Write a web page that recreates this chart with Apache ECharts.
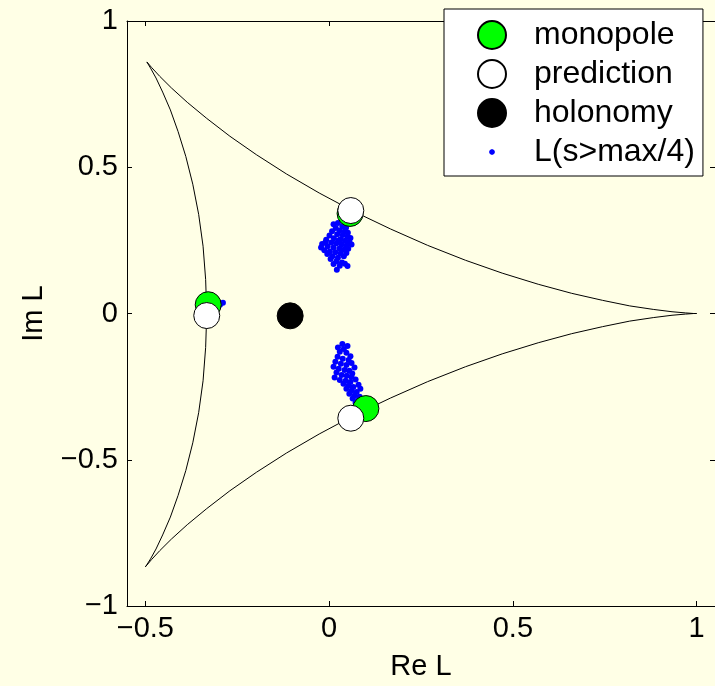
<!DOCTYPE html>
<html>
<head>
<meta charset="utf-8">
<script src="https://cdn.jsdelivr.net/npm/echarts@6/dist/echarts.min.js"></script>
<style>
  html, body { margin: 0; padding: 0; background: #ffffe6; }
  #chart { width: 715px; height: 686px; }
</style>
</head>
<body>
<div id="chart"></div>
<script>
// Axis ticks and their printed labels
const xTicks = [-0.5, 0, 0.5, 1];
const xTickLabels = ['\u22120.5', '0', '0.5', '1'];
const yTicks = [-1, -0.5, 0, 0.5, 1];
const yTickLabels = ['\u22121', '\u22120.5', '0', '0.5', '1'];

// Boundary of the region of allowed Polyakov loop values (closed curve)
const boundary = [
  [1.000, 0.000], [0.992, 0.000], [0.970, 0.002], [0.933, 0.006], [0.882, 0.014],
  [0.818, 0.026], [0.744, 0.045], [0.660, 0.069], [0.569, 0.100], [0.471, 0.138],
  [0.371, 0.182], [0.268, 0.233], [0.167, 0.289], [0.067, 0.349], [-0.027, 0.412],
  [-0.116, 0.477], [-0.198, 0.543], [-0.270, 0.606], [-0.333, 0.667], [-0.386, 0.722],
  [-0.429, 0.771], [-0.461, 0.811], [-0.483, 0.841], [-0.496, 0.860], [-0.500, 0.866],
  [-0.496, 0.859], [-0.486, 0.839], [-0.471, 0.805], [-0.453, 0.757], [-0.432, 0.696],
  [-0.411, 0.622], [-0.390, 0.537], [-0.371, 0.442], [-0.355, 0.339], [-0.343, 0.230],
  [-0.336, 0.116], [-0.333, 0.000], [-0.336, -0.116], [-0.343, -0.230], [-0.355, -0.339],
  [-0.371, -0.442], [-0.390, -0.537], [-0.411, -0.622], [-0.432, -0.696], [-0.453, -0.757],
  [-0.471, -0.805], [-0.486, -0.839], [-0.496, -0.859], [-0.500, -0.866], [-0.496, -0.860],
  [-0.483, -0.841], [-0.461, -0.811], [-0.429, -0.771], [-0.386, -0.722], [-0.333, -0.667],
  [-0.270, -0.606], [-0.198, -0.543], [-0.116, -0.477], [-0.027, -0.412], [0.067, -0.349],
  [0.167, -0.289], [0.268, -0.233], [0.371, -0.182], [0.471, -0.138], [0.569, -0.100],
  [0.660, -0.069], [0.744, -0.045], [0.818, -0.026], [0.882, -0.014], [0.933, -0.006],
  [0.970, -0.002], [0.992, 0.000], [1.000, 0.000]
];

const monopole = [[0.057, 0.342], [-0.329, 0.030], [0.100, -0.325]];
const prediction = [[0.059, 0.352], [-0.333, -0.007], [0.059, -0.358]];
const holonomy = [[-0.106, -0.008]];

// Loop values where s exceeds a quarter of its maximum
const loopUpper = [
  [0.012, 0.305], [0.024, 0.309], [0.036, 0.298], [0.046, 0.293], [0.018, 0.292],
  [0.029, 0.284], [0.043, 0.281], [0.051, 0.276], [0.008, 0.281], [0.022, 0.271],
  [0.037, 0.268], [0.050, 0.263], [0.058, 0.258], [0.001, 0.267], [0.013, 0.257],
  [0.031, 0.254], [0.043, 0.249], [0.055, 0.246], [-0.008, 0.252], [0.006, 0.243],
  [0.020, 0.240], [0.034, 0.236], [0.047, 0.232], [0.061, 0.236], [-0.019, 0.238],
  [-0.004, 0.230], [0.012, 0.226], [0.028, 0.222], [0.040, 0.218], [0.052, 0.221],
  [-0.013, 0.216], [0.002, 0.212], [0.017, 0.209], [0.031, 0.205], [0.047, 0.207],
  [-0.022, 0.226], [-0.005, 0.203], [0.009, 0.196], [0.024, 0.191], [0.040, 0.196],
  [0.004, 0.186], [0.020, 0.179], [0.035, 0.174], [0.012, 0.169], [0.029, 0.163],
  [0.043, 0.170], [0.050, 0.162], [0.021, 0.150], [-0.010, 0.244], [0.026, 0.250]
];
const loopLower = [
  [0.036, -0.104], [0.050, -0.111], [0.040, -0.121], [0.029, -0.131], [0.047, -0.134],
  [0.058, -0.146], [0.023, -0.148], [0.037, -0.155], [0.053, -0.159], [0.017, -0.165],
  [0.032, -0.172], [0.047, -0.176], [0.061, -0.169], [0.012, -0.182], [0.026, -0.189],
  [0.042, -0.193], [0.055, -0.196], [0.069, -0.185], [0.020, -0.202], [0.034, -0.210],
  [0.048, -0.213], [0.061, -0.217], [0.015, -0.219], [0.029, -0.227], [0.045, -0.230],
  [0.058, -0.234], [0.072, -0.226], [0.039, -0.240], [0.053, -0.247], [0.066, -0.251],
  [0.080, -0.244], [0.047, -0.257], [0.061, -0.264], [0.075, -0.268], [0.085, -0.257],
  [0.055, -0.274], [0.069, -0.281], [0.083, -0.285], [0.064, -0.291], [0.078, -0.298],
  [0.091, -0.292], [0.072, -0.305], [0.024, -0.116], [0.063, -0.205]
];
const loopLeft = [[-0.289, 0.037], [-0.297, 0.030]];

const FONT = 'Liberation Sans, Arial, Helvetica, sans-serif';
const lookup = (ticks, labels) => v => {
  const i = ticks.findIndex(t => Math.abs(t - v) < 1e-9);
  return i >= 0 ? labels[i] : '';
};
const black = '#000000';

const chart = echarts.init(document.getElementById('chart'), null, { renderer: 'canvas' });

const axisCommon = {
  type: 'value',
  axisLine: { show: true, onZero: false, lineStyle: { color: black, width: 1 } },
  splitLine: { show: false }
};

chart.setOption({
  backgroundColor: '#ffffe6',
  animation: false,
  grid: { left: 127, right: -1, top: 21, bottom: 78 },
  xAxis: [
    Object.assign({}, axisCommon, {
      position: 'bottom', min: -0.55, max: 1.05,
      axisTick: { show: true, inside: true, length: 5, customValues: xTicks, lineStyle: { color: black } },
      axisLabel: { show: true, customValues: xTicks, formatter: lookup(xTicks, xTickLabels),
        fontFamily: FONT, fontSize: 29, color: black, margin: 8 },
      name: 'Re L', nameLocation: 'middle', nameGap: 46,
      nameTextStyle: { fontFamily: FONT, fontSize: 29, color: black }
    }),
    Object.assign({}, axisCommon, {
      position: 'top', min: -0.55, max: 1.05,
      axisTick: { show: true, inside: true, length: 5, customValues: xTicks, lineStyle: { color: black } },
      axisLabel: { show: false }
    })
  ],
  yAxis: [
    Object.assign({}, axisCommon, {
      position: 'left', min: -1, max: 1,
      axisTick: { show: true, inside: true, length: 5, customValues: yTicks, lineStyle: { color: black } },
      axisLabel: { show: true, customValues: yTicks, formatter: lookup(yTicks, yTickLabels),
        fontFamily: FONT, fontSize: 29, color: black, margin: 9 },
      name: 'Im L', nameLocation: 'middle', nameGap: 79, nameRotate: 90,
      nameTextStyle: { fontFamily: FONT, fontSize: 29, color: black }
    }),
    Object.assign({}, axisCommon, {
      position: 'right', min: -1, max: 1,
      axisTick: { show: true, inside: true, length: 5, customValues: yTicks, lineStyle: { color: black } },
      axisLabel: { show: false }
    })
  ],
  legend: {
    left: 444, top: 9,
    orient: 'vertical',
    backgroundColor: '#ffffff',
    borderColor: black, borderWidth: 1, borderRadius: 0,
    padding: [10, 8, 8, 33],
    itemWidth: 28, itemHeight: 28, itemGap: 7,
    selectedMode: false,
    textStyle: { fontFamily: FONT, fontSize: 32, color: black, lineHeight: 28, padding: [0, 0, 0, 23] },
    data: [
      { name: 'monopole' },
      { name: 'prediction' },
      { name: 'holonomy' },
      { name: 'L(s>max/4)',
        icon: 'path://M0,0M28,28M17,14L16.1,16.1L14,17L11.9,16.1L11,14L11.9,11.9L14,11L16.1,11.9Z' }
    ]
  },
  series: [
    {
      name: 'boundary', type: 'line', data: boundary,
      showSymbol: false, symbol: 'none', silent: true,
      lineStyle: { color: black, width: 1 }, z: 1
    },
    {
      name: 'L(s>max/4)', type: 'scatter',
      data: loopUpper.concat(loopLower, loopLeft),
      symbol: 'circle', symbolSize: 6,
      itemStyle: { color: '#0000ff', opacity: 1 }, z: 2
    },
    {
      name: 'monopole', type: 'scatter', data: monopole,
      symbol: 'circle', symbolSize: 26,
      itemStyle: { color: '#00ff00', borderColor: black, borderWidth: 1, opacity: 1 }, z: 3
    },
    {
      name: 'prediction', type: 'scatter', data: prediction,
      symbol: 'circle', symbolSize: 26,
      itemStyle: { color: '#ffffff', borderColor: black, borderWidth: 1, opacity: 1 }, z: 4
    },
    {
      name: 'holonomy', type: 'scatter', data: holonomy,
      symbol: 'circle', symbolSize: 26,
      itemStyle: { color: black, borderColor: black, borderWidth: 1, opacity: 1 }, z: 5
    }
  ]
});
</script>
</body>
</html>
